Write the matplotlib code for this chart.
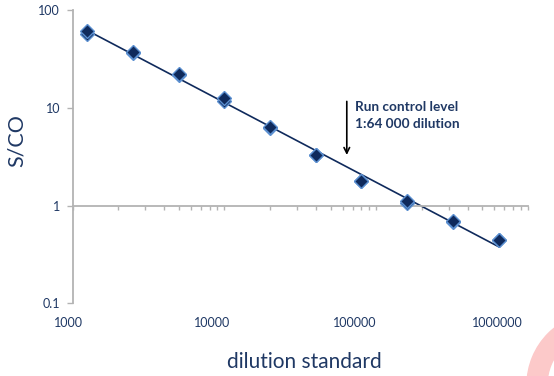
import numpy as np
import matplotlib.pyplot as plt
from matplotlib.patches import Annulus
from matplotlib.ticker import LogLocator, NullFormatter
import matplotlib.transforms as mtransforms

plt.rcParams['font.family'] = ['Lato', 'DejaVu Sans']

# dilution standards and S/CO readings (two replicates)
dilution = [1250, 2500, 5000, 10000, 20000, 40000, 80000, 160000, 320000, 640000]
sco_rep1 = [61.0, 38.0, 22.3, 12.6, 6.4, 3.3, 1.80, 1.12, 0.69, 0.45]
sco_rep2 = [58.0, 37.0, 21.8, 11.8, 6.3, 3.3, 1.78, 1.07, 0.68, 0.44]
xtick_vals = [1000, 10000, 100000, 1000000]
xtick_text = ['1000', '10000', '100000', '1000000']
ytick_vals = [0.1, 1, 10, 100]
ytick_text = ['0.1', '1', '10', '100']
control_dilution = 64000

navy = '#1f3864'
mark = '#0f2a5c'
grey = '#b3b3b3'

fig = plt.figure(figsize=(5.54, 3.76), dpi=100)
ax = fig.add_axes([0.1312, 0.1934, 0.8218, 0.7787])

# power trendline fitted in log-log space
lx = np.log10(np.concatenate([dilution, dilution]))
ly = np.log10(np.concatenate([sco_rep1, sco_rep2]))
slope, icpt = np.polyfit(lx, ly, 1)
xf = np.array([dilution[0], dilution[-1]], dtype=float)
ax.plot(xf, 10 ** (icpt + slope * np.log10(xf)), color=mark, lw=1.2, zorder=2)

for ys in (sco_rep2, sco_rep1):
    ax.plot(dilution, ys, ls='none', marker='D', ms=6.8, mfc=mark,
            mec='#5b8fd0', mew=1.0, zorder=3)

ax.set_xscale('log')
ax.set_yscale('log')
ax.set_xlim(1000, 1000000)
ax.set_ylim(0.1, 100)

for s in ('top', 'right'):
    ax.spines[s].set_visible(False)
ax.spines['left'].set_color(grey)
ax.spines['left'].set_linewidth(1.3)
ax.spines['bottom'].set_position(('data', 1))
ax.spines['bottom'].set_color(grey)
ax.spines['bottom'].set_linewidth(1.3)

ax.set_yticks(ytick_vals)
ax.set_yticklabels(ytick_text)
ax.yaxis.set_minor_locator(plt.NullLocator())
ax.tick_params(axis='y', which='major', direction='out', length=4, width=1,
               color=grey, labelcolor=navy, labelsize=9, pad=5)

ax.set_xticks(xtick_vals)
ax.set_xticklabels([])
ax.xaxis.set_minor_locator(LogLocator(base=10, subs=np.arange(2, 10)))
ax.xaxis.set_minor_formatter(NullFormatter())
ax.tick_params(axis='x', which='both', direction='out', length=3, width=1,
               color=grey)

# x tick labels sit below the plot area (axis crosses at 1)
trans = mtransforms.blended_transform_factory(ax.transData, ax.transAxes)
shift = [0.972, 0.916, 0.857, 0.795]
for v, t, f in zip(xtick_vals, xtick_text, shift):
    ax.text(v * 10 ** (f - 1), -0.067, t, transform=trans, ha='center',
            va='center', fontsize=9, color=navy)

fig.text(17 / 554, 1 - 141 / 376, 'S/CO', rotation=90, ha='center',
         va='center', fontsize=15.5, color=navy)
fig.text(304 / 554, 1 - 362 / 376, 'dilution standard', ha='center',
         va='center', fontsize=15, color=navy)

ax.annotate('', xy=(control_dilution, 3.1), xytext=(control_dilution, 12.5),
            arrowprops=dict(arrowstyle='->', color='black', lw=1.2))
ax.text(control_dilution * 1.13, 11.8, 'Run control level\n1:64 000 dilution',
        ha='left', va='top', fontsize=9.8, fontweight='bold', color=navy,
        linespacing=1.45)

# partial logo ring in the bottom-right corner (inches)
ring = Annulus((6.00, -0.09), 0.73, 0.20,
               transform=fig.dpi_scale_trans, color='#fcc9c9', zorder=-1)
fig.patches.append(ring)

fig.savefig('out.png', dpi=100)
